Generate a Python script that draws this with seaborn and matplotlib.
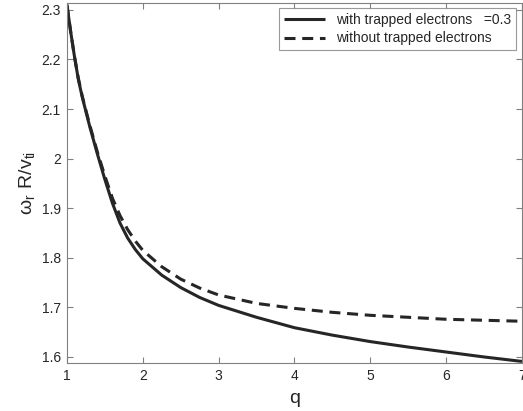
import pandas as pd
import matplotlib
matplotlib.use('Agg')
import matplotlib.pyplot as plt
import seaborn as sns

# values
q = [1.0, 1.05, 1.1, 1.15, 1.2, 1.25, 1.3, 1.4, 1.5, 1.6, 1.7, 1.8, 1.9, 2.0,
     2.25, 2.5, 2.75, 3.0, 3.5, 4.0, 4.5, 5.0, 5.5, 6.0, 6.5, 7.0]
with_trapped = [2.31, 2.255, 2.205, 2.16, 2.125, 2.095, 2.065, 2.010, 1.958, 1.910, 1.870,
                1.840, 1.817, 1.798, 1.765, 1.740, 1.720, 1.704, 1.680, 1.659, 1.644,
                1.631, 1.620, 1.610, 1.600, 1.591]
without_trapped = [2.31, 2.255, 2.205, 2.162, 2.127, 2.097, 2.068, 2.014, 1.965, 1.920, 1.885,
                   1.857, 1.834, 1.815, 1.782, 1.757, 1.739, 1.725, 1.708, 1.698, 1.690,
                   1.684, 1.680, 1.676, 1.674, 1.672]
labels = ['with trapped electrons   =0.3', 'without trapped electrons']

df = pd.DataFrame({'q': q * 2,
                   'w': with_trapped + without_trapped,
                   'case': [labels[0]] * len(q) + [labels[1]] * len(q)})

sns.set_style('ticks')
plt.rcParams['font.family'] = ['Liberation Sans', 'DejaVu Sans']
plt.rcParams['mathtext.default'] = 'regular'

fig = plt.figure(figsize=(5.23, 4.11), dpi=100)
ax = fig.add_axes([0.128, 0.117, 0.870, 0.876])

sns.lineplot(data=df, x='q', y='w', hue='case', style='case',
             palette=['#262626', '#262626'], dashes=[(1, 0), (3.6, 2.2)],
             linewidth=2.2, ax=ax)

ax.set_xlim(1, 7)
ax.set_ylim(1.588, 2.314)
ax.set_xticks([1, 2, 3, 4, 5, 6, 7])
ax.set_yticks([1.6, 1.7, 1.8, 1.9, 2.0, 2.1, 2.2, 2.3])
ax.set_yticklabels(['1.6', '1.7', '1.8', '1.9', '2', '2.1', '2.2', '2.3'])
ax.tick_params(direction='in', top=True, right=True, length=4, width=0.8, pad=4.5,
               colors='#808080', labelcolor='#262626', labelsize=10)
for s in ax.spines.values():
    s.set_color('#808080')
    s.set_linewidth(0.8)

ax.set_xlabel('q', fontsize=14, color='#262626', labelpad=5)
ax.set_ylabel(r'$\omega_r\ R/v_{ti}$', fontsize=14, color='#262626', labelpad=3)

leg = ax.legend(loc='upper right', fontsize=10, frameon=True, fancybox=False,
                edgecolor='#808080', handlelength=3.0, borderaxespad=0.4,
                labelspacing=0.3, borderpad=0.35)
leg.get_frame().set_linewidth(0.8)
for t in leg.get_texts():
    t.set_color('#262626')

fig.savefig('out.png', dpi=100)
